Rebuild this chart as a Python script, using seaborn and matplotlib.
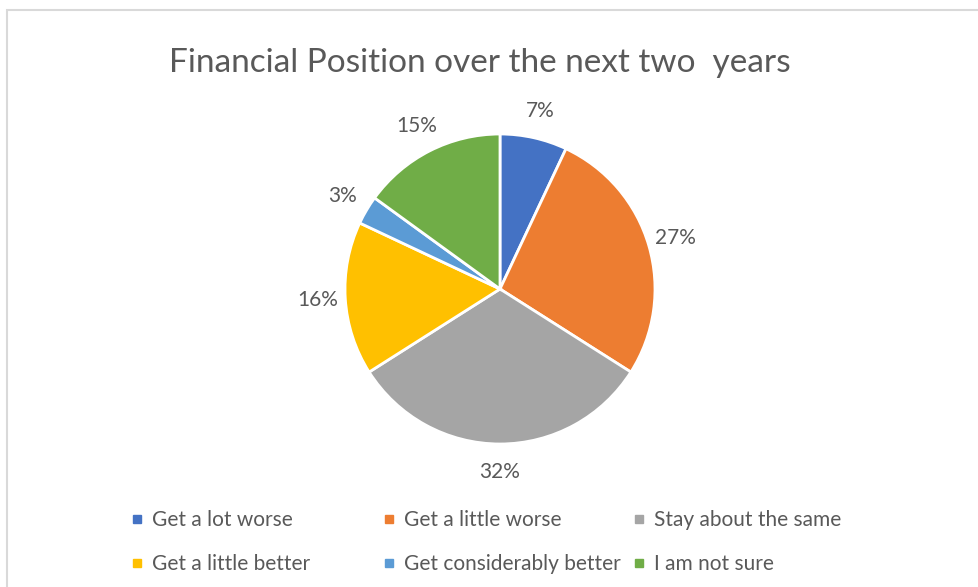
import matplotlib
matplotlib.use("Agg")
import matplotlib.pyplot as plt
import seaborn as sns
from matplotlib.lines import Line2D
from matplotlib.patches import Rectangle

sns.set_theme(style="white")
plt.rcParams['font.family'] = ['Lato', 'DejaVu Sans']

title = "Financial Position over the next two  years"
categories = ["Get a lot worse", "Get a little worse", "Stay about the same",
              "Get a little better", "Get considerably better", "I am not sure"]
values = [7, 27, 32, 16, 3, 15]
colors = ["#4472C4", "#ED7D31", "#A5A5A5", "#FFC000", "#5B9BD5", "#70AD47"]
text_color = "#595959"

W, H = 979, 587
fig = plt.figure(figsize=(W / 100, H / 100), dpi=100)
fig.patch.set_facecolor("white")

# chart border
fig.patches.append(Rectangle((7 / W, -0.05), 1.1, (H - 10) / H + 0.05,
                             transform=fig.transFigure, fill=False,
                             edgecolor="#D9D9D9", linewidth=1.5))

cx, cy, r = 500, 289, 155
ax = fig.add_axes([(cx - r) / W, (H - cy - r) / H, 2 * r / W, 2 * r / H])
wedges, texts, autotexts = ax.pie(
    values, colors=colors, startangle=90, counterclock=False,
    autopct=lambda p: f"{p:.0f}%", pctdistance=1.18,
    wedgeprops=dict(edgecolor="white", linewidth=2),
    textprops=dict(color=text_color, fontsize=15))
ax.set_aspect("equal")
ax.set_xlim(-1, 1)
ax.set_ylim(-1, 1)
ax.axis("off")

fig.text(480 / W, 1 - 63 / H, title, ha="center", va="center",
         fontsize=24, color=text_color)

handles = [Line2D([0], [0], marker="s", linestyle="none", markersize=6,
                  markerfacecolor=c, markeredgecolor=c) for c in colors]
col_x = [131, 383, 633]
for i, x in enumerate(col_x):
    idx = [i, i + 3]
    leg = fig.legend([handles[j] for j in idx], [categories[j] for j in idx],
                     loc="upper left", bbox_to_anchor=(x / W, 1 - 510 / H),
                     frameon=False, fontsize=15, handlelength=0.55,
                     handletextpad=0.45, labelspacing=1.15, borderpad=0,
                     borderaxespad=0)
    for t in leg.get_texts():
        t.set_color(text_color)

fig.savefig("out.png", dpi=100, facecolor="white")
